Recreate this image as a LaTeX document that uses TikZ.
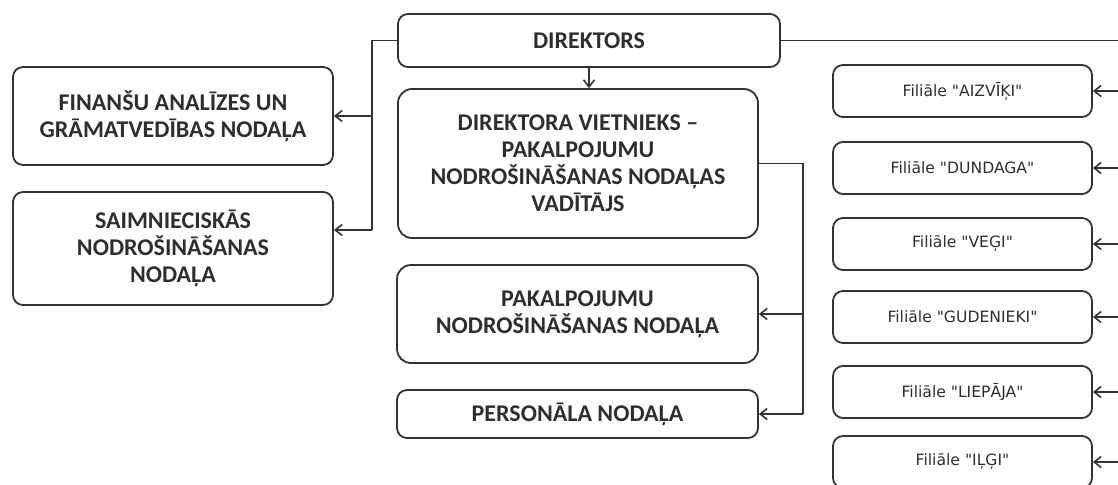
\documentclass[tikz,border=0pt]{standalone}
\usepackage{fontspec}
\setmainfont{Carlito}
\newfontfamily\filfont{DejaVu Sans}
\usepackage{xcolor}
\usetikzlibrary{arrows.meta}
\tikzset{>={Straight Barb[length=3.5pt,width=5.5pt]}}
\definecolor{linegray}{HTML}{333333}
\definecolor{textgray}{HTML}{2E2E2E}
\tikzset{
	dept/.style={draw=linegray,line width=0.9pt,rounded corners=5pt,align=center,inner sep=0pt,
		font=\bfseries\fontsize{12}{13.5}\selectfont,text=textgray},
	branch/.style={draw=linegray,line width=0.9pt,rounded corners=5pt,minimum width=129.5pt,
		minimum height=26pt,inner sep=0pt,font=\filfont\fontsize{7.8}{9}\selectfont,text=textgray},
	link/.style={draw=linegray,line width=0.8pt}
}

\begin{document}
\begin{tikzpicture}[x=0.5pt,y=-0.5pt]
		\clip (0,0) rectangle (1118,484);
		\node[dept,minimum width=191pt,minimum height=26.5pt] (dir) at (589,40.5) {DIREKTORS};
		\node[dept,minimum width=160pt,minimum height=49pt] (fin) at (173,116) {FINANŠU ANALĪZES UN\\GRĀMATVEDĪBAS NODAĻA};
		\node[dept,minimum width=160pt,minimum height=56.5pt] (saim) at (173,248.5) {SAIMNIECISKĀS\\NODROŠINĀŠANAS\\NODAĻA};
		\node[dept,rounded corners=7pt,minimum width=180pt,minimum height=74.5pt] (vic) at (578,163.5) {DIREKTORA VIETNIEKS –\\PAKALPOJUMU\\NODROŠINĀŠANAS NODAĻAS\\VADĪTĀJS};
		\node[dept,rounded corners=7pt,minimum width=180.5pt,minimum height=49pt] (pak) at (577.5,314) {PAKALPOJUMU\\NODROŠINĀŠANAS NODAĻA};
		\node[dept,minimum width=180.5pt,minimum height=24pt] (pers) at (577.5,414) {PERSONĀLA NODAĻA};
		\foreach \n/\y/\t in {1/91/AIZVĪĶI,2/168/DUNDAGA,3/244/VEĢI,4/317/GUDENIEKI,5/392/LIEPĀJA,6/462/IĻĢI}
			\node[branch] (f\n) at (962.5,\y) {Filiāle "\t"};
		\coordinate (lt) at (372,40.5);
		\coordinate (ls) at (372,230);
		\coordinate (vt) at (803,163.5);
		\coordinate (rt) at (1125,40.5);
		\draw[link] (dir.west) -- (lt) -- (ls);
		\draw[link,->] (lt |- fin.east) -- (fin.east);
		\draw[link,->] (ls) -- (ls -| saim.east);
		\draw[link,->] (dir.south) -- (dir.south |- vic.north);
		\draw[link] (vic.east) -- (vt) -- (vt |- pers.east);
		\draw[link,->] (vt |- pak.east) -- (pak.east);
		\draw[link,->] (vt |- pers.east) -- (pers.east);
		\draw[link] (dir.east) -- (rt) -- (rt |- f6.east);
		\foreach \n in {1,...,6}
			\draw[link,->] (rt |- f\n.east) -- (f\n.east);
	\end{tikzpicture}
\end{document}
